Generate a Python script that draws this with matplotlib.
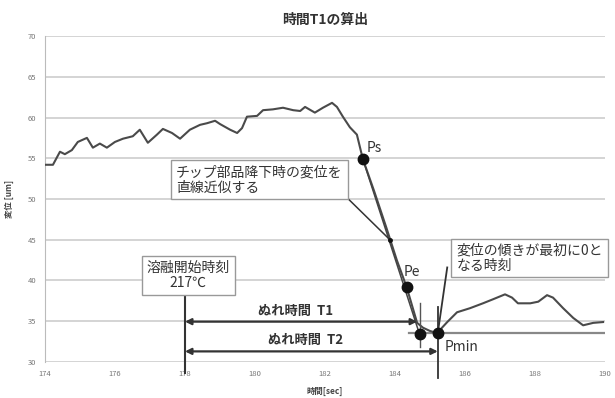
import matplotlib
matplotlib.use("Agg")
import matplotlib.pyplot as plt

plt.rcParams['font.family'] = ['Noto Sans CJK JP', 'DejaVu Sans']

# displacement curve (time [sec], displacement [um])
t = [174.00, 174.23, 174.43, 174.57, 174.77, 174.94, 175.20, 175.37, 175.57, 175.77,
     176.00, 176.23, 176.51, 176.71, 176.94, 177.20, 177.37, 177.63, 177.86, 178.14,
     178.43, 178.63, 178.86, 179.00, 179.29, 179.49, 179.63, 179.77, 180.06, 180.23,
     180.51, 180.80, 181.09, 181.29, 181.43, 181.71, 181.94, 182.20, 182.34, 182.51,
     182.71, 182.91, 183.08, 183.40, 183.75, 184.05, 184.33, 184.63, 184.80, 185.00,
     185.20, 185.49, 185.77, 186.14, 186.51, 186.80, 187.14, 187.34, 187.51, 187.86,
     188.09, 188.34, 188.51, 188.80, 189.09, 189.37, 189.66, 189.94]
disp = [54.2, 54.2, 55.8, 55.5, 56.0, 57.0, 57.5, 56.3, 56.8, 56.3,
        57.0, 57.4, 57.7, 58.5, 56.9, 57.9, 58.6, 58.1, 57.4, 58.5,
        59.1, 59.3, 59.6, 59.2, 58.5, 58.1, 58.7, 60.1, 60.2, 60.9,
        61.0, 61.2, 60.9, 60.8, 61.3, 60.6, 61.2, 61.8, 61.3, 60.1,
        58.8, 57.9, 54.9, 51.0, 46.5, 42.5, 39.2, 34.8, 34.2, 33.8,
        33.55, 34.9, 36.1, 36.6, 37.2, 37.7, 38.3, 37.9, 37.2, 37.2,
        37.4, 38.2, 37.9, 36.6, 35.4, 34.5, 34.8, 34.9]

# key points
ps = (183.08, 54.9)
pe = (184.33, 39.2)
p_fit = (184.70, 33.4)
pmin = (185.22, 33.55)

melt_t = 178.0
t1_end = 184.63
t2_end = 185.22
t1_y = 34.95
t2_y = 31.3

xticks = [174, 176, 178, 180, 182, 184, 186, 188, 190]
yticks = [30, 35, 40, 45, 50, 55, 60, 65, 70]

fig = plt.figure(figsize=(6.15, 3.98), dpi=100)
ax = fig.add_axes([0.073, 0.0905, 0.911, 0.819])
ax.set_xlim(174, 190)
ax.set_ylim(30, 70)
ax.set_xticks(xticks)
ax.set_yticks(yticks)
ax.tick_params(length=0, labelsize=5.5, labelcolor='#777777', pad=6)
for s in ['top', 'right', 'bottom']:
    ax.spines[s].set_visible(False)
ax.spines['left'].set_color('#bbbbbb')
ax.grid(axis='y', color='#d4d4d4', lw=1.4)
ax.set_axisbelow(True)

ax.plot(t, disp, color='#4a4a4a', lw=1.5, zorder=3)

# straight-line approximation of the drop
ax.plot([ps[0], p_fit[0]], [ps[1], p_fit[1]], color='#444444', lw=1.1, zorder=3)

# horizontal line through Pmin
ax.plot([184.4, 190], [pmin[1], pmin[1]], color='#888888', lw=1.6, zorder=2)

# vertical markers
ax.plot([melt_t, melt_t], [38.2, 28.6], color='#333333', lw=1.5, clip_on=False, zorder=4)
ax.plot([pmin[0], pmin[0]], [36.8, 28.0], color='#333333', lw=1.3, clip_on=False, zorder=4)
ax.plot([p_fit[0] + 0.02, p_fit[0] + 0.02], [37.2, 31.8], color='#555555', lw=1.0, zorder=4)

# points
for p in [ps, pe, p_fit, pmin]:
    ax.plot(p[0], p[1], 'o', color='#111111', ms=7.5, zorder=5)

# time arrows
ax.annotate('', xy=(t1_end, t1_y), xytext=(melt_t, t1_y),
            arrowprops=dict(arrowstyle='<|-|>', color='#333333', lw=1.6,
                            shrinkA=0, shrinkB=0, mutation_scale=9), zorder=4)
ax.annotate('', xy=(t2_end, t2_y), xytext=(melt_t, t2_y),
            arrowprops=dict(arrowstyle='<|-|>', color='#333333', lw=1.6,
                            shrinkA=0, shrinkB=0, mutation_scale=9), zorder=4)
ax.text(181.17, 36.3, 'ぬれ時間  T1', ha='center', va='center', fontsize=9.5,
        fontweight='bold', color='#333333')
ax.text(181.43, 32.7, 'ぬれ時間  T2', ha='center', va='center', fontsize=9.5,
        fontweight='bold', color='#333333')

# point labels
ax.text(183.2, 56.3, 'Ps', fontsize=10, color='#333333', ha='left', va='center')
ax.text(184.25, 41.0, 'Pe', fontsize=10, color='#333333', ha='left', va='center')
ax.text(185.42, 31.8, 'Pmin', fontsize=10, color='#333333', ha='left', va='center')

box = dict(boxstyle='square,pad=0.35', fc='white', ec='#999999', lw=1.0)

ax.text(178.09, 40.65, '溶融開始時刻\n217℃', ha='center', va='center', fontsize=10,
        color='#333333', linespacing=1.1, bbox=box, zorder=6)

ax.text(177.75, 52.35, 'チップ部品降下時の変位を\n直線近似する', ha='left', va='center',
        fontsize=10, color='#333333', linespacing=1.1, bbox=box, zorder=6)
ax.plot([182.49, 183.86], [50.74, 44.97], color='#333333', lw=1.1, zorder=4)
ax.plot(183.86, 44.97, 'o', color='#111111', ms=2.5, zorder=5)

ax.text(185.75, 42.75, '変位の傾きが最初に0と\nなる時刻', ha='left', va='center',
        fontsize=10, color='#333333', linespacing=1.1, bbox=box, zorder=6)
ax.plot([185.49, pmin[0]], [41.6, pmin[1]], color='#333333', lw=1.3, zorder=4)

ax.set_title('時間T1の算出', fontsize=10, fontweight='bold', color='#333333', pad=9)
ax.set_xlabel('時間[sec]', fontsize=6, fontweight='bold', color='#444444', labelpad=6)
ax.set_ylabel('変位 [um]', fontsize=6, fontweight='bold', color='#444444', labelpad=10)

fig.savefig('out.png', dpi=100)
